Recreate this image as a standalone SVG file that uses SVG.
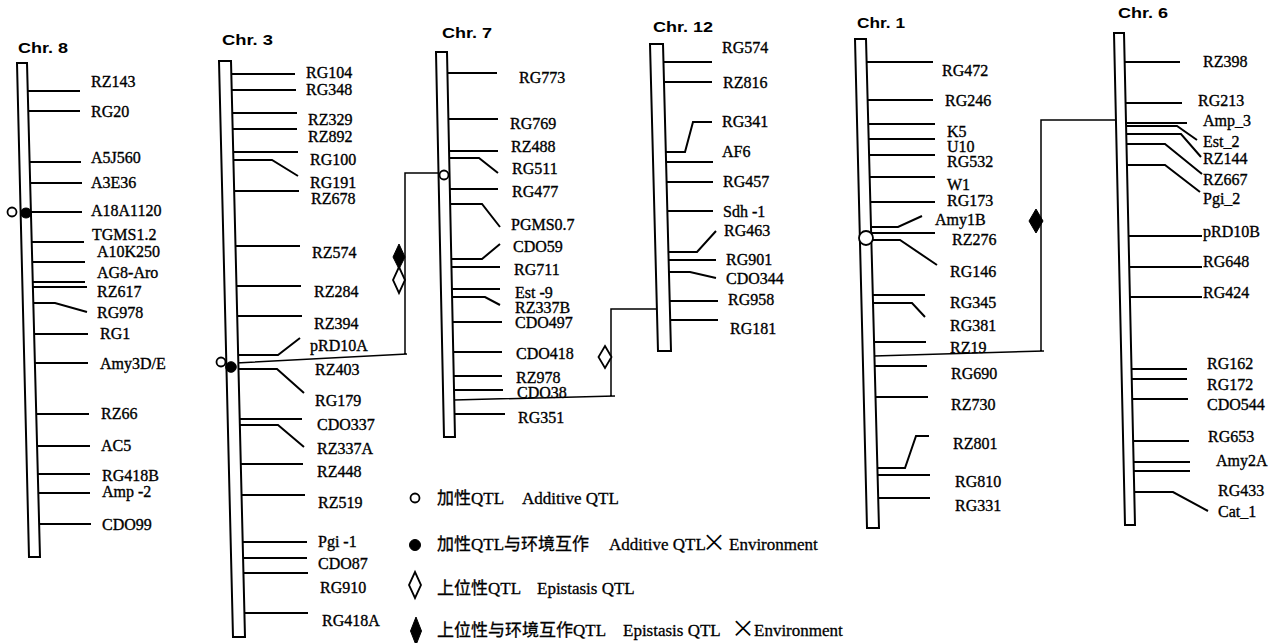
<svg xmlns="http://www.w3.org/2000/svg" width="1271" height="643" viewBox="0 0 1271 643">
<style>
.bar{fill:#fff;stroke:#000;stroke-width:2}
.m{stroke:#000;stroke-width:2;fill:none}
.c{stroke:#000;stroke-width:1.5;fill:none}
.lb{font-family:"Liberation Serif","Times New Roman",serif;font-size:16px;fill:#000;stroke:#000;stroke-width:0.35}
.t{font-family:"Liberation Sans",Arial,sans-serif;font-weight:bold;font-size:14px;fill:#000}
.lg{font-family:"Liberation Serif","Noto Sans CJK SC",serif;font-size:17px;fill:#000;stroke:#000;stroke-width:0.3}
.x{font-family:"Noto Sans CJK SC",sans-serif;font-size:24px;fill:#000}
.oc{fill:#fff;stroke:#000;stroke-width:1.8}
.fc{fill:#000;stroke:#000;stroke-width:1}
</style>
<rect width="1271" height="643" fill="#fff"/>

<g id="connectors">
<path class="c" d="M236 363L407 354M405 355V173H440"/>
<path class="c" d="M454 400L615 396M611 396V309H657"/>
<path class="c" d="M874 356L1044 351M1041 351V120H1116"/>
<polygon class="fc" points="399,244 405,257 399,269 393,257"/>
<polygon class="oc" points="399,267 405,280 399,293 393,280"/>
<polygon class="oc" points="605,346 611.5,357 605,368 598.5,357"/>
<polygon class="fc" points="1036,209 1043,221 1036,233 1029,221"/>
</g>

<g id="chr8">
<text class="t" x="18" y="53" textLength="50" lengthAdjust="spacingAndGlyphs">Chr. 8</text>
<polygon class="bar" points="17,63 27,63 40,557 29,557"/>
<path class="m" d="M28 91H80M28 111H80M29.6 162H81M30 183H82M31 212H82M31.7 242H84M32 262H85M32.8 282H85M33 287H87M34 334H88M35 363H88M36 414H89M37 446H90M38 474H90M38 493H90M39 524H91"/>
<polyline class="m" points="33,303 55,303 87,312"/>
<circle class="oc" cx="12" cy="212" r="4.5"/>
<ellipse class="fc" cx="26" cy="213" rx="5.5" ry="5"/>
<text class="lb" x="91" y="87">RZ143</text>
<text class="lb" x="91" y="117">RG20</text>
<text class="lb" x="91" y="163">A5J560</text>
<text class="lb" x="91" y="188">A3E36</text>
<text class="lb" x="91" y="216">A18A1120</text>
<text class="lb" x="92" y="240">TGMS1.2</text>
<text class="lb" x="97" y="257">A10K250</text>
<text class="lb" x="97" y="278">AG8-Aro</text>
<text class="lb" x="97" y="297">RZ617</text>
<text class="lb" x="97" y="318">RG978</text>
<text class="lb" x="100" y="339">RG1</text>
<text class="lb" x="100" y="369">Amy3D/E</text>
<text class="lb" x="101" y="419">RZ66</text>
<text class="lb" x="101" y="451">AC5</text>
<text class="lb" x="102" y="481">RG418B</text>
<text class="lb" x="102" y="497">Amp -2</text>
<text class="lb" x="102" y="530">CDO99</text>
</g>

<g id="chr3">
<text class="t" x="222" y="45" textLength="51" lengthAdjust="spacingAndGlyphs">Chr. 3</text>
<polygon class="bar" points="219,61 231,61 245,637 233,637"/>
<path class="m" d="M231 74H295M231.5 90H296M232 113H297M232.5 129H297M233 152H298M234 191H299M235.5 246H300M236.5 286H301M237 316H302M239.5 419H302M240.5 464H303M241.5 495H305M242.5 542H307M243 558H307M243.4 573H308M244.4 613H308"/>
<polyline class="m" points="233.4,160 272,160 298,176"/>
<polyline class="m" points="238,355 278,355 300,338"/>
<polyline class="m" points="238.5,369 277,369 304,393"/>
<polyline class="m" points="239.8,425 278,425 304,447"/>
<circle class="oc" cx="221" cy="362" r="4.5"/>
<circle class="fc" cx="231" cy="367" r="5.3"/>
<text class="lb" x="306" y="78">RG104</text>
<text class="lb" x="306" y="95">RG348</text>
<text class="lb" x="308" y="125">RZ329</text>
<text class="lb" x="308" y="142">RZ892</text>
<text class="lb" x="310" y="165">RG100</text>
<text class="lb" x="310" y="188">RG191</text>
<text class="lb" x="311" y="204">RZ678</text>
<text class="lb" x="312" y="258">RZ574</text>
<text class="lb" x="314" y="297">RZ284</text>
<text class="lb" x="314" y="329">RZ394</text>
<text class="lb" x="310" y="351">pRD10A</text>
<text class="lb" x="315" y="375">RZ403</text>
<text class="lb" x="315" y="406">RG179</text>
<text class="lb" x="317" y="430">CDO337</text>
<text class="lb" x="317" y="454">RZ337A</text>
<text class="lb" x="317" y="477">RZ448</text>
<text class="lb" x="318" y="508">RZ519</text>
<text class="lb" x="318" y="547">Pgi -1</text>
<text class="lb" x="318" y="569">CDO87</text>
<text class="lb" x="320" y="593">RG910</text>
<text class="lb" x="322" y="626">RG418A</text>
</g>

<g id="chr7">
<text class="t" x="442" y="38" textLength="50" lengthAdjust="spacingAndGlyphs">Chr. 7</text>
<polygon class="bar" points="436,52 447,52 455,437 444,437"/>
<path class="m" d="M447.4 73H497M448.4 119H498M449 151H498M449.8 189H498M451.5 267H500M452 289H500M452.6 322H502M453.2 352H502M453.7 376H502M454 390H503M454.5 414H505"/>
<polyline class="m" points="449.2,158 479,158 498,173"/>
<polyline class="m" points="450.2,204 482,204 500,227"/>
<polyline class="m" points="451.3,259 482,259 500,244"/>
<polyline class="m" points="452,297 485,297 500,305"/>
<circle class="oc" cx="444" cy="175" r="4.5"/>
<text class="lb" x="519" y="83">RG773</text>
<text class="lb" x="510" y="129">RG769</text>
<text class="lb" x="511" y="152">RZ488</text>
<text class="lb" x="512" y="174">RG511</text>
<text class="lb" x="512" y="197">RG477</text>
<text class="lb" x="511" y="230">PGMS0.7</text>
<text class="lb" x="513" y="252">CDO59</text>
<text class="lb" x="514" y="275">RG711</text>
<text class="lb" x="515" y="298">Est -9</text>
<text class="lb" x="515" y="313">RZ337B</text>
<text class="lb" x="515" y="328">CDO497</text>
<text class="lb" x="516" y="359">CDO418</text>
<text class="lb" x="516" y="383">RZ978</text>
<text class="lb" x="517" y="398">CDO38</text>
<text class="lb" x="518" y="423">RG351</text>
</g>

<g id="chr12">
<text class="t" x="653" y="32" textLength="60" lengthAdjust="spacingAndGlyphs">Chr. 12</text>
<polygon class="bar" points="650,44 663,44 671,351 658,351"/>
<path class="m" d="M663.5 62H712M664 82H712M666 162H713M666.6 182H713M667.3 211H713M668.6 260H716M669.7 301H718M670.2 320H718"/>
<polyline class="m" points="665,152 685,152 693,122 712,122"/>
<polyline class="m" points="668,252 697,252 716,231"/>
<polyline class="m" points="668.9,272 690,272 716,278"/>
<text class="lb" x="722" y="53">RG574</text>
<text class="lb" x="723" y="88">RZ816</text>
<text class="lb" x="722" y="127">RG341</text>
<text class="lb" x="722" y="157">AF6</text>
<text class="lb" x="723" y="187">RG457</text>
<text class="lb" x="723" y="217">Sdh -1</text>
<text class="lb" x="724" y="236">RG463</text>
<text class="lb" x="726" y="265">RG901</text>
<text class="lb" x="726" y="284">CDO344</text>
<text class="lb" x="728" y="305">RG958</text>
<text class="lb" x="730" y="334">RG181</text>
</g>

<g id="chr1">
<text class="t" x="857" y="28" textLength="48" lengthAdjust="spacingAndGlyphs">Chr. 1</text>
<polygon class="bar" points="855,39 866,39 879,528 867,528"/>
<path class="m" d="M866.6 62H933M867.6 100H933M868.3 124H935M868.7 139H935M869 155H935M869.7 177H935M870.3 202H935M871.2 233H935M872.8 295H925M874 342H926M874.7 366H927M875.5 397H928M877.6 475H930M878.2 498H930"/>
<polyline class="m" points="871,227 898,227 922,216"/>
<polyline class="m" points="871.4,240 900,240 937,265"/>
<polyline class="m" points="873,303 912,303 925,317"/>
<polyline class="m" points="877,468 905,468 916,436 929,436"/>
<circle class="oc" cx="866" cy="238" r="7"/>
<text class="lb" x="942" y="76">RG472</text>
<text class="lb" x="945" y="106">RG246</text>
<text class="lb" x="947" y="137">K5</text>
<text class="lb" x="947" y="152">U10</text>
<text class="lb" x="947" y="167">RG532</text>
<text class="lb" x="947" y="190">W1</text>
<text class="lb" x="947" y="206">RG173</text>
<text class="lb" x="935" y="225">Amy1B</text>
<text class="lb" x="952" y="245">RZ276</text>
<text class="lb" x="950" y="277">RG146</text>
<text class="lb" x="950" y="308">RG345</text>
<text class="lb" x="950" y="331">RG381</text>
<text class="lb" x="950" y="353">RZ19</text>
<text class="lb" x="951" y="379">RG690</text>
<text class="lb" x="951" y="410">RZ730</text>
<text class="lb" x="953" y="449">RZ801</text>
<text class="lb" x="955" y="487">RG810</text>
<text class="lb" x="955" y="511">RG331</text>
</g>

<g id="chr6">
<text class="t" x="1118" y="18" textLength="50" lengthAdjust="spacingAndGlyphs">Chr. 6</text>
<polygon class="bar" points="1114,33 1124,33 1135,525 1125,525"/>
<path class="m" d="M1124.6 62H1180M1125.6 103H1182M1126 123H1187M1128.5 236H1202M1129.2 267H1202M1130 297H1202M1131.5 369H1187M1131.8 379H1187M1132.2 399H1188M1133 441H1189M1133.6 462H1190M1133.8 471H1190"/>
<polyline class="m" points="1126,126 1177,126 1197,140"/>
<polyline class="m" points="1126.3,134 1181,134 1201,157"/>
<polyline class="m" points="1126.5,144 1165,144 1202,174"/>
<polyline class="m" points="1127,165 1165,165 1200,192"/>
<polyline class="m" points="1134.3,492 1173,492 1208,511"/>
<text class="lb" x="1203" y="67">RZ398</text>
<text class="lb" x="1198" y="106">RG213</text>
<text class="lb" x="1203" y="126">Amp_3</text>
<text class="lb" x="1203" y="147">Est_2</text>
<text class="lb" x="1203" y="164">RZ144</text>
<text class="lb" x="1203" y="185">RZ667</text>
<text class="lb" x="1203" y="204">Pgi_2</text>
<text class="lb" x="1203" y="237">pRD10B</text>
<text class="lb" x="1203" y="267">RG648</text>
<text class="lb" x="1203" y="298">RG424</text>
<text class="lb" x="1207" y="369">RG162</text>
<text class="lb" x="1207" y="390">RG172</text>
<text class="lb" x="1207" y="410">CDO544</text>
<text class="lb" x="1208" y="442">RG653</text>
<text class="lb" x="1216" y="466">Amy2A</text>
<text class="lb" x="1218" y="496">RG433</text>
<text class="lb" x="1218" y="517">Cat_1</text>
</g>

<g id="legend">
<circle class="oc" cx="415" cy="498" r="4.5"/>
<circle class="fc" cx="415" cy="545" r="5.5"/>
<polygon class="oc" points="415,572 421,585 415,598 409,585"/>
<polygon class="fc" points="416,617 421.5,631 416,645 410.5,631"/>
<text class="lg" x="437" y="504">加性QTL</text>
<text class="lg" x="522" y="504">Additive QTL</text>
<text class="lg" x="437" y="550">加性QTL与环境互作</text>
<text class="lg" x="609" y="550">Additive QTL</text>
<text class="x" x="702" y="551">×</text>
<text class="lg" x="729" y="550">Environment</text>
<text class="lg" x="437" y="594">上位性QTL</text>
<text class="lg" x="537" y="594">Epistasis QTL</text>
<text class="lg" x="437" y="636">上位性与环境互作QTL</text>
<text class="lg" x="623" y="636">Epistasis QTL</text>
<text class="x" x="731" y="637">×</text>
<text class="lg" x="754" y="636">Environment</text>
</g>
</svg>
